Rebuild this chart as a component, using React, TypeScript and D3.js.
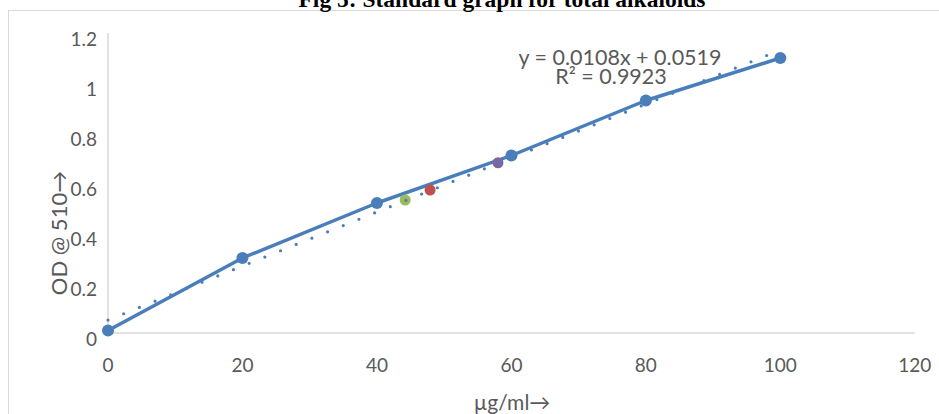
import * as d3 from 'd3'

const CONC = [0, 20, 40, 60, 80, 100]
const OD = [0.01, 0.3, 0.52, 0.71, 0.93, 1.1]

// unknown samples
const SAMPLE_X = [44.2, 47.9, 58.0]
const SAMPLE_Y = [0.532, 0.572, 0.681]
const SAMPLE_COLORS = ['#9bbb59', '#c0504d', '#8064a2']

const X_TICKS = [0, 20, 40, 60, 80, 100, 120]
const Y_TICKS = [0, 0.2, 0.4, 0.6, 0.8, 1, 1.2]

const SLOPE = 0.0108
const INTERCEPT = 0.0519
const R2 = 0.9923

const W = 939
const H = 414
const BLUE = '#4a7ebb'
const FONT = 'Lato, "Open Sans", sans-serif'

export default function App() {
  const x = d3.scaleLinear().domain([0, 120]).range([108, 914.8])
  const y = d3.scaleLinear().domain([0, 1.2]).range([333, 33])

  const pts: [number, number][] = CONC.map((c, i) => [c, OD[i]])
  const line = d3.line<[number, number]>()
    .x(d => x(d[0]))
    .y(d => y(d[1]))

  const trend: [number, number][] = [
    [0, INTERCEPT],
    [100, SLOPE * 100 + INTERCEPT]
  ]

  return (
    <svg width={W} height={H} style={{ position: 'absolute', left: 0, top: 0 }}>
      <rect x={0} y={0} width={W} height={H} fill="white" />
      {/* chart frame */}
      <rect x={8.5} y={10.5} width={W + 20} height={H + 20} fill="none" stroke="#d9d9d9" strokeWidth={1} />

      <text x={502} y={7} textAnchor="middle" fontFamily='"Liberation Serif", "Times New Roman", serif'
        fontWeight="bold" fontSize={23.5} fill="#000">
        Fig 5: Standard graph for total alkaloids
      </text>

      {/* axes */}
      <line x1={x(0)} x2={x(120)} y1={y(0)} y2={y(0)} stroke="#d9d9d9" strokeWidth={1.5} />
      <line x1={x(0)} x2={x(0)} y1={y(0)} y2={y(1.2)} stroke="#d9d9d9" strokeWidth={1.5} />

      {Y_TICKS.map(t => (
        <text key={'y' + t} x={97} y={y(t) + 8} textAnchor="end" dominantBaseline="middle"
          fontFamily={FONT} fontSize={19} fill="#595959">
          {t}
        </text>
      ))}
      {X_TICKS.map(t => (
        <text key={'x' + t} x={x(t)} y={372} textAnchor="middle"
          fontFamily={FONT} fontSize={19} fill="#595959">
          {t}
        </text>
      ))}

      <text transform="translate(67,233) rotate(-90)" textAnchor="middle"
        fontFamily={FONT} fontSize={22} fill="#595959">
        OD @ 510→
      </text>
      <text x={512} y={410} textAnchor="middle" fontFamily={FONT} fontSize={21} fill="#595959">
        µg/ml→
      </text>

      {/* standard series */}
      <path d={line(pts) ?? ''} fill="none" stroke={BLUE} strokeWidth={3.5} strokeLinejoin="round" />
      {pts.map((d, i) => (
        <circle key={i} cx={x(d[0])} cy={y(d[1])} r={6} fill={BLUE} />
      ))}

      {SAMPLE_X.map((sx, i) => (
        <circle key={'s' + i} cx={x(sx)} cy={y(SAMPLE_Y[i])} r={5.5} fill={SAMPLE_COLORS[i]} />
      ))}

      {/* linear trendline */}
      <path d={line(trend) ?? ''} fill="none" stroke={BLUE} strokeWidth={3.2}
        strokeDasharray="0 16.9" strokeLinecap="round" />

      <text x={620} y={65} textAnchor="middle" fontFamily={FONT} fontSize={21.5} fill="#595959">
        {`y = ${SLOPE}x + ${INTERCEPT}`}
      </text>
      <text x={611} y={84} textAnchor="middle" fontFamily={FONT} fontSize={21.5} fill="#595959">
        R² = {R2}
      </text>
    </svg>
  )
}
